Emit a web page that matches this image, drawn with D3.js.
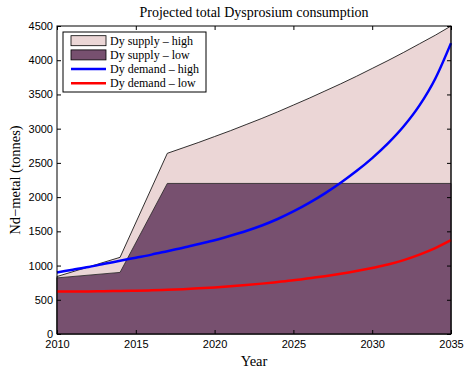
<!DOCTYPE html>
<html>
<head>
<meta charset="utf-8">
<script src="https://cdn.jsdelivr.net/npm/d3@7"></script>
<style>
  body { margin: 0; background: #fff; }
  .tick text { font-family: "Liberation Sans", Arial, sans-serif; font-size: 11px; }
  .serif { font-family: "Liberation Serif", "Times New Roman", serif; }
</style>
</head>
<body>
<div id="chart"></div>
<script>
// values
var supplyHighYears = [2010, 2014, 2017, 2018, 2019, 2020, 2021, 2022, 2023, 2024, 2025, 2026, 2027, 2028, 2029, 2030, 2031, 2032, 2033, 2034, 2035]
var supplyHigh      = [840, 1120, 2640, 2720, 2800, 2885, 2970, 3060, 3150, 3245, 3345, 3445, 3550, 3655, 3765, 3880, 3995, 4115, 4240, 4365, 4500]
var supplyLowYears  = [2010, 2014, 2017, 2035]
var supplyLow       = [820, 900, 2200, 2200]
var demandYears = [2010, 2011, 2012, 2013, 2014, 2015, 2016, 2017, 2018, 2019, 2020, 2021, 2022, 2023, 2024, 2025, 2026, 2027, 2028, 2029, 2030, 2031, 2032, 2033, 2034, 2035]
var demandHigh  = [900, 940, 980, 1025, 1070, 1115, 1160, 1210, 1260, 1315, 1370, 1435, 1505, 1585, 1680, 1790, 1915, 2055, 2210, 2380, 2570, 2785, 3035, 3340, 3730, 4250]
var demandLow   = [620, 621, 622, 625, 628, 632, 638, 646, 655, 667, 680, 696, 715, 736, 760, 785, 815, 845, 880, 920, 965, 1015, 1080, 1160, 1255, 1370]
var xTicks = [2010, 2015, 2020, 2025, 2030, 2035]
var yTicks = [0, 500, 1000, 1500, 2000, 2500, 3000, 3500, 4000, 4500]
var legendLabels = ['Dy supply \u2013 high', 'Dy supply \u2013 low', 'Dy demand \u2013 high', 'Dy demand \u2013 low']

var colLight = '#ebd6d6', colDark = '#77506f', colBlue = '#0000ff', colRed = '#ff0000'

let margin = {top: 26, right: 14, bottom: 36, left: 57},
    width = 465 - margin.left - margin.right,
    height = 370 - margin.top - margin.bottom;

let svg = d3.select('#chart').append('svg')
    .attr('width', 465).attr('height', 370)
let g = svg.append('g').attr('transform', 'translate(' + margin.left + ',' + margin.top + ')')

let x = d3.scaleLinear().domain([2010, 2035]).range([0, width])
let y = d3.scaleLinear().domain([0, 4500]).range([height, 0])

let hi = supplyHighYears.map((d, i) => [d, supplyHigh[i]])
let lo = supplyLowYears.map((d, i) => [d, supplyLow[i]])

let area = d3.area().x(d => x(d[0])).y0(y(0)).y1(d => y(d[1]))
g.append('path').datum(hi).attr('d', area).attr('fill', colLight).attr('stroke', '#000').attr('stroke-width', 0.8)
g.append('path').datum(lo).attr('d', area).attr('fill', colDark).attr('stroke', '#222').attr('stroke-width', 0.8)

let line = d3.line().x(d => x(d[0])).y(d => y(d[1])).curve(d3.curveMonotoneX)
g.append('path').datum(demandYears.map((d, i) => [d, demandHigh[i]])).attr('d', line)
    .attr('fill', 'none').attr('stroke', colBlue).attr('stroke-width', 2.5)
g.append('path').datum(demandYears.map((d, i) => [d, demandLow[i]])).attr('d', line)
    .attr('fill', 'none').attr('stroke', colRed).attr('stroke-width', 2.5)

// axes, matlab style: ticks inside, on all four sides
let xAxis = g.append('g').attr('transform', 'translate(0,' + height + ')')
    .call(d3.axisBottom(x).tickValues(xTicks).tickFormat(d3.format('d')).tickSizeInner(-4).tickSizeOuter(0).tickPadding(6))
let yAxis = g.append('g')
    .call(d3.axisLeft(y).tickValues(yTicks).tickFormat(d3.format('d')).tickSizeInner(-4).tickSizeOuter(0).tickPadding(4))
g.append('g').call(d3.axisTop(x).tickValues(xTicks).tickFormat('').tickSizeInner(-4).tickSizeOuter(0))
g.append('g').attr('transform', 'translate(' + width + ',0)')
    .call(d3.axisRight(y).tickValues(yTicks).tickFormat('').tickSizeInner(-4).tickSizeOuter(0))
g.selectAll('.domain').remove()
g.selectAll('.tick line').attr('stroke', '#000')
g.selectAll('.tick text').attr('fill', '#000')
g.append('rect').attr('width', width).attr('height', height)
    .attr('fill', 'none').attr('stroke', '#000').attr('stroke-width', 1)

svg.append('text').attr('class', 'serif').attr('x', margin.left + width / 2).attr('y', 17)
    .attr('text-anchor', 'middle').style('font-size', '14px').text('Projected total Dysprosium consumption')
svg.append('text').attr('class', 'serif').attr('x', margin.left + width / 2).attr('y', 366)
    .attr('text-anchor', 'middle').style('font-size', '14.5px').text('Year')
svg.append('text').attr('class', 'serif').attr('transform', 'rotate(-90)')
    .attr('x', -(margin.top + height / 2)).attr('y', 20)
    .attr('text-anchor', 'middle').style('font-size', '14.5px').text('Nd\u2212metal (tonnes)')

// legend
let leg = svg.append('g').attr('transform', 'translate(63,32)')
leg.append('rect').attr('width', 143).attr('height', 60).attr('fill', '#fff').attr('stroke', '#000').attr('stroke-width', 1)
legendLabels.forEach((t, i) => {
    let cy = 8.7 + i * 14.2
    if (i < 2) {
        leg.append('rect').attr('x', 8).attr('y', cy - 5).attr('width', 35).attr('height', 10)
            .attr('fill', i == 0 ? colLight : colDark).attr('stroke', '#000').attr('stroke-width', 0.8)
    } else {
        leg.append('line').attr('x1', 8).attr('x2', 43).attr('y1', cy).attr('y2', cy)
            .attr('stroke', i == 2 ? colBlue : colRed).attr('stroke-width', 2.5)
    }
    leg.append('text').attr('class', 'serif').attr('x', 47).attr('y', cy + 4)
        .style('font-size', '12px').text(t)
})
</script>
</body>
</html>
